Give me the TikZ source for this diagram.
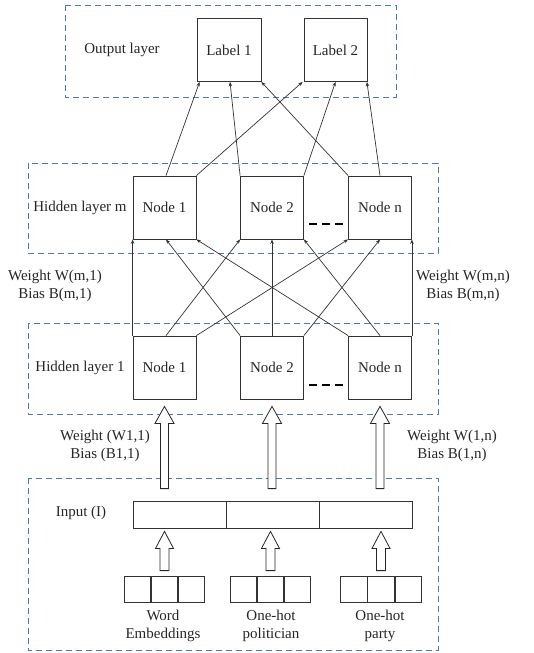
\documentclass[tikz,border=0pt]{standalone}
\usepackage{fontspec}
\setmainfont{Liberation Serif}
\newfontfamily\tnr{Liberation Serif}
\usetikzlibrary{arrows.meta,calc,positioning}
\definecolor{dashblue}{RGB}{80,118,190}
\begin{document}
\begin{tikzpicture}[x=1pt,y=-1pt,
  every node/.style={font=\tnr\fontsize{15}{18}\selectfont, inner sep=0pt, text=black!85},
  layerbox/.style={draw=dashblue, line width=0.8pt, dash pattern=on 6pt off 4pt},
  unitbox/.style={draw=black!80, line width=0.8pt, minimum width=63pt, minimum height=63pt},
  cellbox/.style={draw=black!80, line width=0.8pt, minimum width=26.3pt, minimum height=26pt},
  barbox/.style={draw=black!80, line width=0.8pt, minimum width=93pt, minimum height=27pt},
  conn/.style={draw=black!80, line width=0.7pt, -{Stealth[length=4.5pt,width=3.5pt]}},
  blk/.style={draw=black!85, line width=0.8pt, fill=white, line join=miter},
  dots/.style={draw=black, line width=2pt, dash pattern=on 8pt off 5pt}]
\useasboundingbox (0,0) rectangle (534,653);

% layer frames
\draw[layerbox] (65,5) rectangle (396,97);
\draw[layerbox] (28,163) rectangle (438,253);
\draw[layerbox] (28,323) rectangle (438,414);
\draw[layerbox] (28,478) rectangle (438,650);

% output layer
\node (outtxt) at (122,50) {Output layer};
\node[unitbox, minimum width=64pt] (lab1) at (229,50) {Label 1};
\node[unitbox] (lab2) at (335.5,50) {Label 2};

% hidden layer m
\node (hmtxt) at (80,208) {Hidden layer m};
\node[unitbox] (m1) at (164.5,207.5) {Node 1};
\node[unitbox] (m2) at (272,207.5) {Node 2};
\node[unitbox] (mn) at (380,207.5) {Node n};
\draw[dots] (309,224) -- (343,224);

% hidden layer 1
\node (h1txt) at (80,368) {Hidden layer 1};
\node[unitbox] (a1) at (164.5,367.5) {Node 1};
\node[unitbox] (a2) at (272,367.5) {Node 2};
\node[unitbox] (an) at (380,367.5) {Node n};
\draw[dots] (309,385) -- (343,385);

% weight labels
\node[align=center] (wm1) at (55,286) {Weight W(m,1)\\Bias B(m,1)};
\node[align=center] (wmn) at (463,286) {Weight W(m,n)\\Bias B(m,n)};
\node[align=center] (w11) at (105,446) {Weight (W1,1)\\Bias (B1,1)};
\node[align=center] (w1n) at (452,446) {Weight W(1,n)\\Bias B(1,n)};

% input bar
\node (intxt) at (81,513) {Input (I)};
\node[barbox] (in1) at (179.5,514.5) {};
\node[barbox] (in2) at (272.5,514.5) {};
\node[barbox] (in3) at (365.5,514.5) {};

% small input vectors
\node[cellbox] (e2) at (164.5,589) {};
\node[cellbox, left=0pt of e2] (e1) {};
\node[cellbox, right=0pt of e2] (e3) {};
\node[cellbox] (p2) at (270.5,589) {};
\node[cellbox, left=0pt of p2] (p1) {};
\node[cellbox, right=0pt of p2] (p3) {};
\node[cellbox] (q2) at (381,589) {};
\node[cellbox, left=0pt of q2] (q1) {};
\node[cellbox, right=0pt of q2] (q3) {};
\node[align=center] (etxt) at (163,626) {Word\\Embeddings};
\node[align=center] (ptxt) at (271,626) {One-hot\\politician};
\node[align=center] (qtxt) at (380,626) {One-hot\\party};

% connectors hidden 1 -> hidden m
\draw[conn] (a1.north west) -- (m1.south west);
\draw[conn] ([xshift=1.5pt]a1.north) -- (m2.south west);
\draw[conn] (a1.north east) -- (mn.south west);
\draw[conn] (a2.north west) -- ([xshift=1.5pt]m1.south);
\draw[conn] (a2.north) -- (m2.south);
\draw[conn] (a2.north east) -- (mn.south);
\draw[conn] (an.north west) -- (m1.south east);
\draw[conn] (an.north) -- (m2.south east);
\draw[conn] (an.north east) -- (mn.south east);

% connectors hidden m -> output
\draw[conn] ([xshift=1.5pt]m1.north) -- ([xshift=3pt]lab1.south west);
\draw[conn] (m2.north west) -- ([xshift=1pt]lab1.south);
\draw[conn] (mn.north west) -- (lab1.south east);
\draw[conn] (m1.north east) -- ([xshift=-1pt]lab2.south west);
\draw[conn] (m2.north east) -- (lab2.south);
\draw[conn] (mn.north) -- ([xshift=-0.5pt]lab2.south east);

% block arrows small vectors -> input bar
\foreach \src/\dst in {e2/in1, p2/in2, q2/in3}{
  \draw[blk] let \p1=(\src.north), \p2=(\dst.south) in
    (\x1-4.5pt,\y1+5pt) -- (\x1-4.5pt,\y2-20pt) -- (\x1-9pt,\y2-20pt) -- (\x1,\y2-3pt)
    -- (\x1+9pt,\y2-20pt) -- (\x1+4.5pt,\y2-20pt) -- (\x1+4.5pt,\y1+5pt) -- cycle;
}
% block arrows input bar -> hidden layer 1
\foreach \src/\dst in {in1/a1, in2/a2, in3/an}{
  \draw[blk] let \p1=(\src.north), \p2=(\dst.south) in
    (\x2-4pt,\y1+12pt) -- (\x2-4pt,\y2-24pt) -- (\x2-9.5pt,\y2-24pt) -- (\x2,\y2-7pt)
    -- (\x2+9.5pt,\y2-24pt) -- (\x2+4pt,\y2-24pt) -- (\x2+4pt,\y1+12pt) -- cycle;
}
\end{tikzpicture}
\end{document}
